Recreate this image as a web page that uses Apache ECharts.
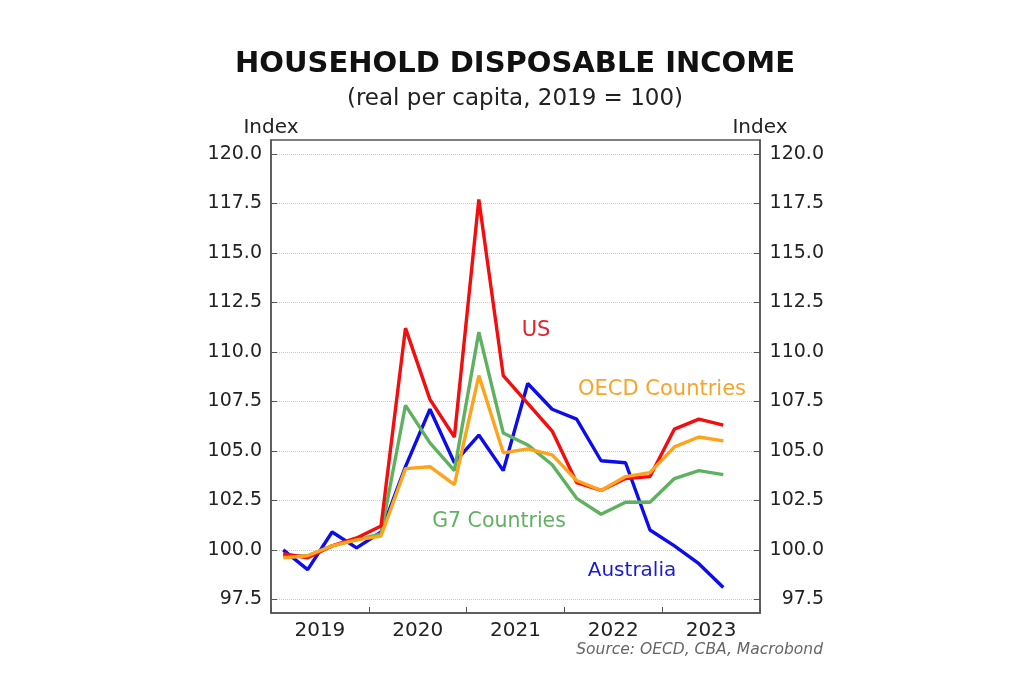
<!DOCTYPE html>
<html>
<head>
<meta charset="utf-8">
<script src="https://cdn.jsdelivr.net/npm/echarts@6/dist/echarts.min.js"></script>
<style>
html,body{margin:0;padding:0;background:#fff;}
#chart{width:1024px;height:682px;}
</style>
</head>
<body>
<div id="chart"></div>
<script>
// ---- data ----
const quarters = ['2019Q1','2019Q2','2019Q3','2019Q4','2020Q1','2020Q2','2020Q3','2020Q4',
  '2021Q1','2021Q2','2021Q3','2021Q4','2022Q1','2022Q2','2022Q3','2022Q4',
  '2023Q1','2023Q2','2023Q3','2023Q4'];
const years = ['2019','2020','2021','2022','2023'];
const usValues = [99.8, 99.6, 100.2, 100.6, 101.2, 111.2, 107.6, 105.7, 117.7, 108.8, 107.4, 106.0, 103.4, 103.0, 103.6, 103.7, 106.1, 106.6, 106.3];
const oecdValues = [99.6, 99.7, 100.2, 100.5, 100.7, 104.1, 104.2, 103.3, 108.8, 104.9, 105.1, 104.8, 103.5, 103.0, 103.7, 103.9, 105.2, 105.7, 105.5];
const g7Values = [99.7, 99.7, 100.2, 100.5, 100.8, 107.3, 105.4, 104.0, 111.0, 105.9, 105.3, 104.3, 102.6, 101.8, 102.4, 102.4, 103.6, 104.0, 103.8];
const australiaValues = [100.0, 99.0, 100.9, 100.1, 100.9, 104.2, 107.1, 104.4, 105.8, 104.0, 108.4, 107.1, 106.6, 104.5, 104.4, 101.0, 100.2, 99.3, 98.1];
const yTicks = [97.5, 100, 102.5, 105, 107.5, 110, 112.5, 115, 117.5, 120];

const FONT = 'DejaVu Sans';
const chart = echarts.init(document.getElementById('chart'), null, {renderer: 'canvas'});

function yAxisCfg(pos) {
  return {
    type: 'value',
    position: pos,
    min: 96.81,
    max: 120.7,
    name: 'Index',
    nameLocation: 'end',
    nameGap: 12,
    nameTextStyle: {fontFamily: FONT, fontSize: 20, color: '#222', align: 'center', verticalAlign: 'middle'},
    axisLine: {show: true, lineStyle: {color: '#555', width: 1.5}},
    axisTick: {show: true, inside: true, length: 6, customValues: yTicks, lineStyle: {color: '#555', width: 1}},
    axisLabel: {
      show: true, customValues: yTicks, fontFamily: FONT, fontSize: 19, color: '#222',
      margin: pos === 'left' ? 9 : 64, align: 'right',
      formatter: v => Number(v).toFixed(1)
    },
    splitLine: {show: pos === 'left', lineStyle: {color: '#c8c8c8', type: 'dotted', width: 1}}
  };
}

const option = {
  backgroundColor: '#ffffff',
  textStyle: {fontFamily: FONT},
  animation: false,
  grid: {left: 271, right: 264, top: 140, bottom: 69, show: true, borderColor: '#555', borderWidth: 1.5, containLabel: false},
  xAxis: [
    {type: 'category', data: quarters, boundaryGap: true, show: false, position: 'bottom'},
    {type: 'category', data: years, boundaryGap: true, position: 'bottom',
      axisLine: {show: true, lineStyle: {color: '#555', width: 1.5}},
      axisTick: {show: true, inside: true, length: 6, lineStyle: {color: '#555', width: 1}},
      axisLabel: {fontFamily: FONT, fontSize: 20, color: '#222', margin: 8},
      splitLine: {show: false}}
  ],
  yAxis: [yAxisCfg('left'), yAxisCfg('right')],
  series: [
    {name: 'Australia', type: 'line', xAxisIndex: 0, yAxisIndex: 0, data: australiaValues, symbol: 'none', lineStyle: {color: '#0c0cec', width: 3.4}},
    {name: 'G7 Countries', type: 'line', xAxisIndex: 0, yAxisIndex: 0, data: g7Values, symbol: 'none', lineStyle: {color: '#5fb15f', width: 3.4}},
    {name: 'US', type: 'line', xAxisIndex: 0, yAxisIndex: 0, data: usValues, symbol: 'none', lineStyle: {color: '#f50c0c', width: 3.4}},
    {name: 'OECD Countries', type: 'line', xAxisIndex: 0, yAxisIndex: 0, data: oecdValues, symbol: 'none', lineStyle: {color: '#ffa31a', width: 3.4}}
  ],
  graphic: [
    {type: 'text', style: {x: 515, y: 64, text: 'HOUSEHOLD DISPOSABLE INCOME', fill: '#111', font: 'bold 29px "DejaVu Sans"', textAlign: 'center', textVerticalAlign: 'middle', verticalAlign: 'middle'}},
    {type: 'text', style: {x: 515, y: 99, text: '(real per capita, 2019 = 100)', fill: '#222', font: '23px "DejaVu Sans"', textAlign: 'center', textVerticalAlign: 'middle', verticalAlign: 'middle'}},
    {type: 'text', style: {x: 536, y: 331, text: 'US', fill: '#e8202a', font: '21px "DejaVu Sans"', textAlign: 'center', textVerticalAlign: 'middle', verticalAlign: 'middle'}},
    {type: 'text', style: {x: 662, y: 390, text: 'OECD Countries', fill: '#f7a52a', font: '21px "DejaVu Sans"', textAlign: 'center', textVerticalAlign: 'middle', verticalAlign: 'middle'}},
    {type: 'text', style: {x: 499, y: 522, text: 'G7 Countries', fill: '#62b162', font: '20.5px "DejaVu Sans"', textAlign: 'center', textVerticalAlign: 'middle', verticalAlign: 'middle'}},
    {type: 'text', style: {x: 632, y: 570.5, text: 'Australia', fill: '#1a1ad6', font: '20px "DejaVu Sans"', textAlign: 'center', textVerticalAlign: 'middle', verticalAlign: 'middle'}},
    {type: 'text', style: {x: 823, y: 650, text: 'Source: OECD, CBA, Macrobond', fill: '#666', font: 'italic 15.5px "DejaVu Sans"', textAlign: 'right', textVerticalAlign: 'middle', verticalAlign: 'middle'}}
  ]
};
chart.setOption(option);
</script>
</body>
</html>
